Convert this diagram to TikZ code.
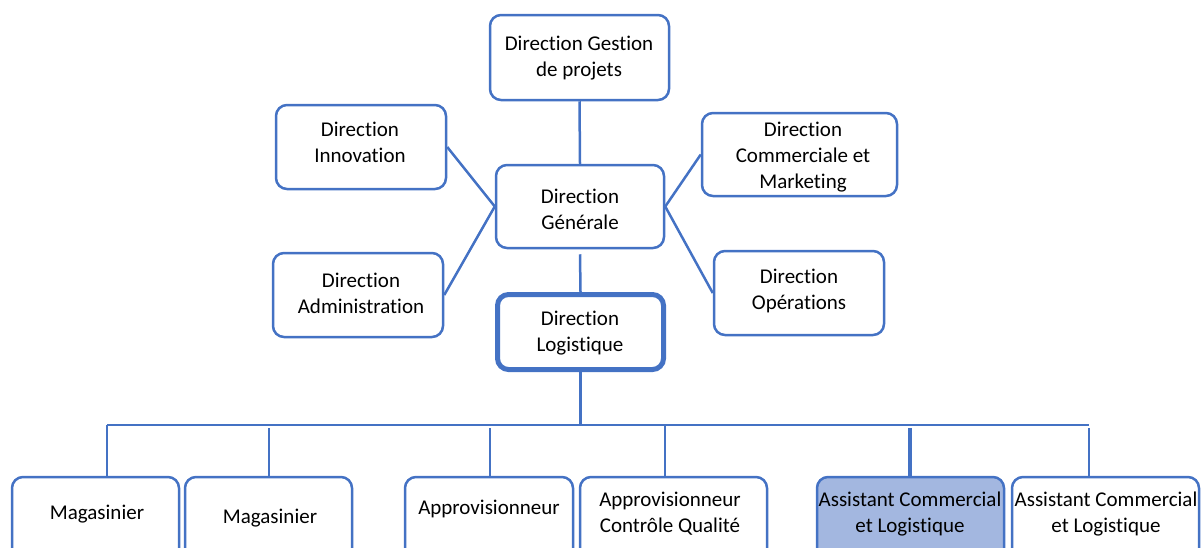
\documentclass[tikz,border=0pt]{standalone}
\usepackage{fontspec}
\setmainfont{Carlito}[Ligatures={NoCommon,NoContextual}]
\definecolor{obl}{HTML}{4472C4}
\definecolor{ofill}{HTML}{A3B7E0}
\tikzset{
  box/.style={draw=obl, line width=2.5pt, rounded corners=11pt, fill=white, inner sep=0pt},
  thickbox/.style={box, line width=5pt},
  filledbox/.style={box, fill=ofill},
  txt/.style={align=center, inner sep=0pt, font=\fontsize{21}{26}\selectfont, text=black},
  conn/.style={draw=obl, line width=2.5pt},
  thickconn/.style={draw=obl, line width=4pt}
}
\begin{document}
\begin{tikzpicture}[x=1pt,y=-1pt]
\useasboundingbox (0,0) rectangle (1201,547);
\clip (0,0) rectangle (1201,547);
% upper boxes
\node[box, minimum width=179, minimum height=85] (gp) at (579.5,57.5) {};
\node[box, minimum width=170, minimum height=84] (inn) at (361,147) {};
\node[box, minimum width=195, minimum height=83] (com) at (799.5,154.5) {};
\node[box, minimum width=168, minimum height=83] (dg) at (580,206.5) {};
\node[box, minimum width=170, minimum height=84] (adm) at (358,295) {};
\node[box, minimum width=170, minimum height=84] (ops) at (799,293) {};
\node[thickbox, minimum width=166, minimum height=75] (dl) at (580.5,332) {};
% texts
\node[txt] (gpt) at (579,58) {Direction Gestion\\de projets};
\node[txt] (innt) at (360,142) {Direction\\Innovation};
\node[txt] (comt) at (803,157) {Direction\\Commerciale et\\Marketing};
\node[txt] (dgt) at (580,209) {Direction\\Générale};
\node[txt] (admt) at (361,293) {Direction\\Administration};
\node[txt] (opst) at (799,291) {Direction\\Opérations};
\node[txt] (dlt) at (580,333) {Direction\\Logistique};
% connectors upper
\draw[conn] (gp.south) -- (dg.north);
\draw[conn] (inn.east) -- (dg.west);
\draw[conn] (adm.east) -- (dg.west);
\draw[conn] (com.west) -- (dg.east);
\draw[conn] (ops.west) -- (dg.east);
\draw[conn] ([yshift=-5pt]dg.south) -- (dl.north);
% bus
\coordinate (busL) at (107,425);
\coordinate (busR) at (1089,425);
\coordinate (busM) at (580.5,425);
\draw[conn] (dl.south) -- (busM);
\draw[conn] (busL) -- (busR);
% bottom boxes
\node[box, minimum width=167, minimum height=100] (m1) at (95.5,527) {};
\node[box, minimum width=167, minimum height=100] (m2) at (268.5,527) {};
\node[box, minimum width=168, minimum height=100] (ap) at (489,527) {};
\node[box, minimum width=187, minimum height=100] (aq) at (673.5,527) {};
\node[filledbox, minimum width=187, minimum height=100] (as1) at (910.5,527) {};
\node[box, minimum width=187, minimum height=100] (as2) at (1105.5,527) {};
\node[txt] (m1t) at (97,514) {Magasinier};
\node[txt] (m2t) at (270,518) {Magasinier};
\node[txt] (apt) at (489,509) {Approvisionneur};
\node[txt] (aqt) at (670,514) {Approvisionneur\\Contrôle Qualité};
\node[txt] (as1t) at (910,514) {Assistant Commercial\\et Logistique};
\node[txt] (as2t) at (1106,514) {Assistant Commercial\\et Logistique};
% drops
\coordinate (d1) at (107,425);
\coordinate (d2) at (269,428);
\coordinate (d3) at (490,428);
\coordinate (d4) at (665,425);
\coordinate (d5) at (910,428);
\coordinate (d6) at (1089,428);
\draw[conn] (d1) -- (d1 |- m1.north);
\draw[conn] (d2) -- (d2 |- m2.north);
\draw[conn] (d3) -- (d3 |- ap.north);
\draw[conn] (d4) -- (d4 |- aq.north);
\draw[thickconn] (d5) -- (d5 |- as1.north);
\draw[conn] (d6) -- (d6 |- as2.north);
\end{tikzpicture}
\end{document}
